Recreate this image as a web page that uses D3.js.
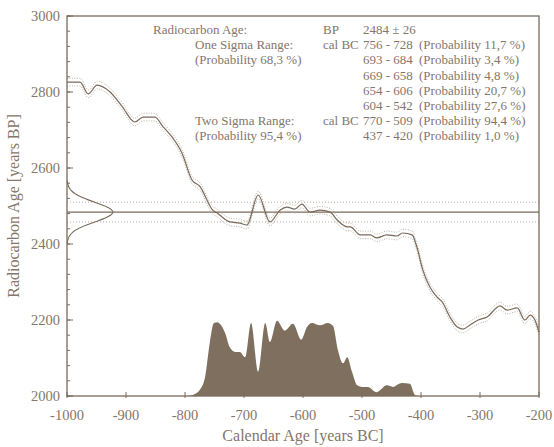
<!DOCTYPE html>
<html>
<head>
<meta charset="utf-8">
<script src="https://cdn.jsdelivr.net/npm/d3@7"></script>
<style>
  body { margin: 0; background: #fff; overflow: hidden; }
  svg { display: block; font-family: "Liberation Serif", "Times New Roman", serif; }
</style>
</head>
<body>
<svg></svg>
<script>
// calibration curve (cal BC year -> radiocarbon age BP)
const calYears = [-1000, -978, -964, -949, -927, -907, -885, -871, -851, -837, -822, -805, -788, -775, -753, -746,
  -724, -707, -695, -676, -656, -639, -627, -614, -602, -588, -571, -554, -542, -525, -520, -503, -486, -475,
  -458, -441, -431, -415, -407, -397, -385, -373, -363, -351, -339, -329, -317, -303, -288, -266, -254, -237,
  -224, -215, -207, -200];
const calBP = [2826, 2826, 2795, 2818, 2800, 2763, 2721, 2734, 2734, 2708, 2682, 2639, 2568, 2552, 2489, 2482,
  2458, 2455, 2450, 2529, 2458, 2489, 2497, 2492, 2505, 2484, 2489, 2484, 2463, 2445, 2445, 2424, 2424, 2416,
  2424, 2421, 2429, 2424, 2392, 2332, 2287, 2261, 2245, 2208, 2182, 2176, 2187, 2200, 2208, 2237, 2226, 2232,
  2200, 2213, 2200, 2168];
const calSigma = 10;

// calibrated probability distribution (relative)
const probYears = [-795, -785, -775, -766, -758, -751, -745, -741, -732, -724, -715, -707, -698, -688, -676, -664,
  -656, -644, -631, -617, -603, -593, -585, -571, -558, -549, -541, -532, -525, -517, -508, -500, -490, -475,
  -458, -447, -437, -432, -419, -410, -406];
const probValues = [0, 2, 8, 25, 70, 96, 97, 95, 83, 64, 58, 58, 51, 96, 32, 96,
  71, 99, 86, 95, 74, 91, 96, 93, 96, 92, 61, 43, 51, 32, 14, 12, 12, 5,
  14, 12, 16, 17, 16, 1, 0];

// measured radiocarbon age
const bpMean = 2484;
const bpSigma = 26;

const xTicks = [-1000, -900, -800, -700, -600, -500, -400, -300, -200];
const yTicks = [2000, 2200, 2400, 2600, 2800, 3000];
const yMinorTicks = d3.range(2000, 3001, 40);

const oneSigmaRanges = ['756 - 728', '693 - 684', '669 - 658', '654 - 606', '604 - 542'];
const oneSigmaProbs = ['11,7', '3,4', '4,8', '20,7', '27,6'];
const twoSigmaRanges = ['770 - 509', '437 - 420'];
const twoSigmaProbs = ['94,4', '1,0'];

const width = 554;
const height = 447;
const margin = { top: 16, right: 15, bottom: 51, left: 67 };
const innerWidth = width - margin.left - margin.right;
const innerHeight = height - margin.top - margin.bottom;

const lineColor = '#7b6b5b';
const textColor = '#85766a';
const fillColor = '#7f6f5e';

const svg = d3.select('svg')
  .attr('width', width)
  .attr('height', height);

const g = svg.append('g')
  .attr('transform', `translate(${margin.left}, ${margin.top})`);

const x = d3.scaleLinear().domain([-1000, -200]).range([0, innerWidth]);
const y = d3.scaleLinear().domain([2000, 3000]).range([innerHeight, 0]);
const probY = d3.scaleLinear().domain([0, 100]).range([innerHeight, innerHeight * 0.8]);
const gaussX = d3.scaleLinear().domain([0, 1]).range([0, innerWidth * 0.097]);

// probability fill
const probData = probYears.map((d, i) => ({ year: d, p: probValues[i] }));
g.append('path')
  .datum(probData)
  .attr('fill', fillColor)
  .attr('d', d3.area()
    .x(d => x(d.year))
    .y0(innerHeight)
    .y1(d => probY(d.p))
    .curve(d3.curveMonotoneX));

// measured age lines
g.append('line')
  .attr('x1', 0).attr('x2', innerWidth)
  .attr('y1', y(bpMean)).attr('y2', y(bpMean))
  .attr('stroke', lineColor).attr('stroke-width', 1.3);
[bpMean - bpSigma, bpMean + bpSigma].forEach(v => {
  g.append('line')
    .attr('x1', 0).attr('x2', innerWidth)
    .attr('y1', y(v)).attr('y2', y(v))
    .attr('stroke', '#a89a8c').attr('stroke-width', 0.8)
    .attr('stroke-dasharray', '1,2');
});

// gaussian of measured age on the y axis
const gaussData = d3.range(bpMean - 3.2 * bpSigma, bpMean + 3.2 * bpSigma + 1, 2)
  .map(v => ({ bp: v, p: Math.exp(-0.5 * ((v - bpMean) / bpSigma) ** 2) }));
g.append('path')
  .datum(gaussData)
  .attr('fill', 'none')
  .attr('stroke', lineColor)
  .attr('stroke-width', 1.1)
  .attr('d', d3.line().x(d => gaussX(d.p)).y(d => y(d.bp)).curve(d3.curveBasis));

// calibration curve with its sigma envelope
const calData = calYears.map((d, i) => ({ year: d, bp: calBP[i] }));
[-calSigma, calSigma].forEach(off => {
  g.append('path')
    .datum(calData)
    .attr('fill', 'none')
    .attr('stroke', '#aa9c8e')
    .attr('stroke-width', 0.8)
    .attr('stroke-dasharray', '1,1.5')
    .attr('d', d3.line().x(d => x(d.year)).y(d => y(d.bp + off)).curve(d3.curveMonotoneX));
});
g.append('path')
  .datum(calData)
  .attr('fill', 'none')
  .attr('stroke', lineColor)
  .attr('stroke-width', 1.2)
  .attr('d', d3.line().x(d => x(d.year)).y(d => y(d.bp)).curve(d3.curveMonotoneX));

// frame
g.append('rect')
  .attr('width', innerWidth).attr('height', innerHeight)
  .attr('fill', 'none').attr('stroke', lineColor).attr('stroke-width', 1.3);

// y axis: ticks point inward
const yAxis = g.append('g');
yAxis.selectAll('line.minor').data(yMinorTicks)
  .enter().append('line')
  .attr('x1', 0).attr('x2', 3)
  .attr('y1', d => y(d)).attr('y2', d => y(d))
  .attr('stroke', lineColor);
yAxis.selectAll('line.major').data(yTicks)
  .enter().append('line')
  .attr('x1', 0).attr('x2', 6)
  .attr('y1', d => y(d)).attr('y2', d => y(d))
  .attr('stroke', lineColor);
yAxis.selectAll('text').data(yTicks)
  .enter().append('text')
  .attr('x', -7)
  .attr('y', d => y(d))
  .attr('dy', '0.35em')
  .attr('text-anchor', 'end')
  .attr('font-size', '14.5px')
  .attr('fill', textColor)
  .text(d => d);

// x axis
const xAxis = g.append('g');
xAxis.selectAll('line').data(xTicks)
  .enter().append('line')
  .attr('x1', d => x(d)).attr('x2', d => x(d))
  .attr('y1', innerHeight + 2).attr('y2', innerHeight - 4)
  .attr('stroke', lineColor);
xAxis.selectAll('text').data(xTicks)
  .enter().append('text')
  .attr('x', d => x(d))
  .attr('y', innerHeight + 24)
  .attr('text-anchor', 'middle')
  .attr('font-size', '14.5px')
  .attr('fill', textColor)
  .text(d => d);

// axis titles
svg.append('text')
  .attr('x', margin.left + innerWidth / 2)
  .attr('y', height - 6)
  .attr('text-anchor', 'middle')
  .attr('font-size', '16px')
  .attr('fill', textColor)
  .text('Calendar Age [years BC]');
svg.append('text')
  .attr('transform', `translate(19, ${margin.top + innerHeight / 2}) rotate(-90)`)
  .attr('text-anchor', 'middle')
  .attr('font-size', '16px')
  .attr('fill', textColor)
  .text('Radiocarbon Age [years BP]');

// result text block
const rowH = 15.2;
const row0 = 34;
const legend = svg.append('g')
  .attr('font-size', '13px')
  .attr('fill', textColor);
function put(xp, row, txt) {
  legend.append('text').attr('x', xp).attr('y', row0 + row * rowH).text(txt);
}
put(153, 0, 'Radiocarbon Age:');
put(323, 0, 'BP');
put(363, 0, `${bpMean} \u00b1 ${bpSigma}`);
put(195, 1, 'One Sigma Range:');
put(195, 2, '(Probability 68,3 %)');
put(323, 1, 'cal BC');
oneSigmaRanges.forEach((r, i) => {
  put(363, 1 + i, r);
  put(419, 1 + i, `(Probability ${oneSigmaProbs[i]} %)`);
});
put(195, 6, 'Two Sigma Range:');
put(195, 7, '(Probability 95,4 %)');
put(323, 6, 'cal BC');
twoSigmaRanges.forEach((r, i) => {
  put(363, 6 + i, r);
  put(419, 6 + i, `(Probability ${twoSigmaProbs[i]} %)`);
});
</script>
</body>
</html>
